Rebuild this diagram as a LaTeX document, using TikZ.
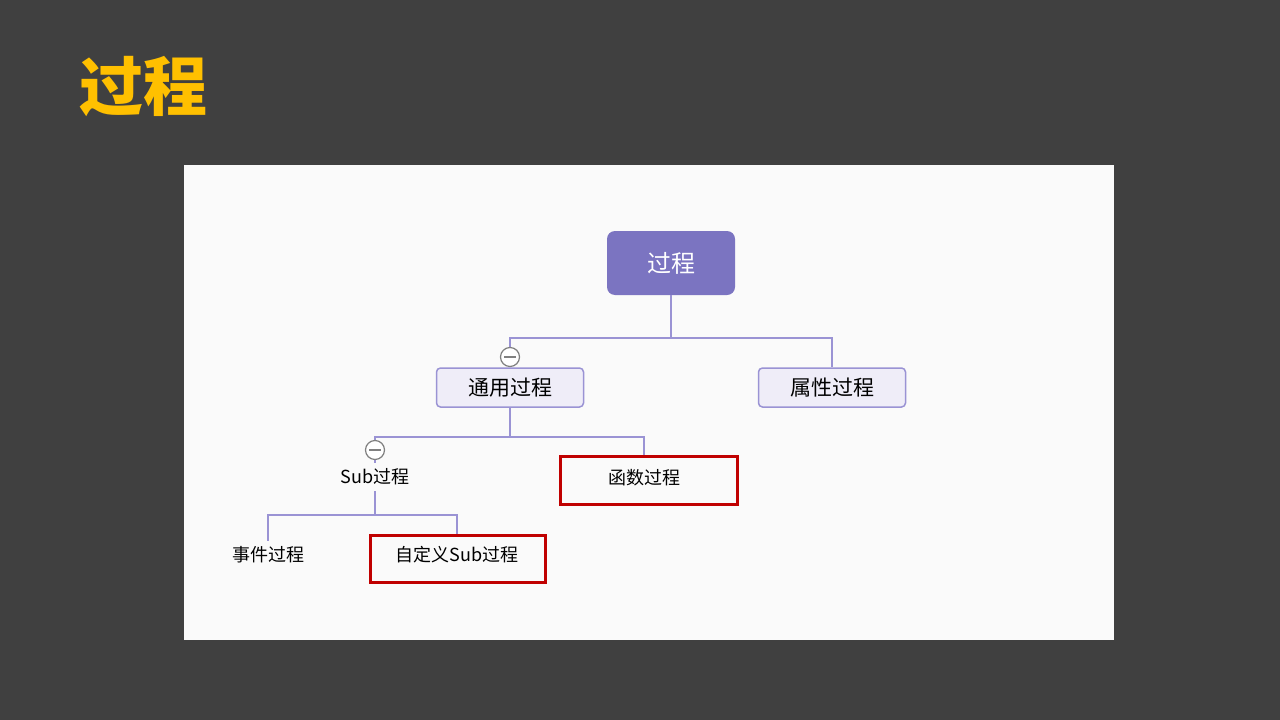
\documentclass[tikz,border=0pt]{standalone}
\usepackage{xcolor}
\usepackage{tikz}
\usepackage{fontspec}
\setmainfont{Noto Sans CJK SC}
\usetikzlibrary{arrows.meta, positioning, calc}
\definecolor{slidebg}{HTML}{404040}
\definecolor{titlegold}{HTML}{FFC000}
\definecolor{panelbg}{HTML}{FAFAFA}
\definecolor{mmroot}{HTML}{7B74C1}
\definecolor{mmline}{HTML}{9A93D4}
\definecolor{mmfill}{HTML}{EFEDF8}
\definecolor{markred}{HTML}{C00000}

\begin{document}
\begin{tikzpicture}[
    x=1pt, y=-1pt,
    topic/.style={draw=mmline, fill=mmfill, line width=1.5pt, rounded corners=4pt,
                  minimum width=147pt, minimum height=39pt, inner sep=0pt, font=\fontsize{21}{24}\selectfont},
    leaf/.style={inner sep=0pt, minimum height=28pt, font=\fontsize{18}{21}\selectfont},
    hilite/.style={draw=markred, line width=3pt, inner sep=0pt},
    link/.style={draw=mmline, line width=1.5pt},
    fold/.style={circle, draw=gray, fill=white, line width=1.2pt, minimum size=19pt, inner sep=0pt,
                 path picture={\draw[gray, line width=1.2pt]
                     ([xshift=-6pt]path picture bounding box.center) -- ([xshift=6pt]path picture bounding box.center);}},
]
    \useasboundingbox (0,0) rectangle (1280,720);
    \fill[slidebg] (0,0) rectangle (1280,720);

    % Title
    \node[text=titlegold, font=\fontsize{64}{70}\selectfont\bfseries, inner sep=0pt] (title) at (143,87) {过程};

    % Panel
    \fill[panelbg] (184,165) rectangle (1114,640);

    % Nodes
    \node[fill=mmroot, rounded corners=8pt, minimum width=128pt, minimum height=64pt, inner sep=0pt,
          text=white, font=\fontsize{24}{28}\selectfont] (root) at (671,263) {过程};
    \node[topic] (general) at (510,387.5) {通用过程};
    \node[topic] (attr) at (832,387.5) {属性过程};
    \node[leaf] (subp) at (375,477) {Sub过程};
    \node[leaf] (func) at (644,478) {函数过程};
    \node[leaf] (event) at (268,555) {事件过程};
    \node[leaf] (custom) at (457,555) {自定义Sub过程};

    % Red marks
    \node[hilite, minimum width=177pt, minimum height=48pt] (funcbox) at (648.5,480) {};
    \node[hilite, minimum width=175pt, minimum height=47pt] (custombox) at (457.5,558.5) {};

    % Connectors
    \coordinate (j1) at (671,338);
    \coordinate (j2) at (510,437);
    \coordinate (j3) at (375,515);
    \draw[link] (root.south) -- (j1) -| (general.north);
    \draw[link] (j1) -| (attr.north);
    \draw[link] (general.south) -- (j2) -| (subp.north);
    \draw[link] (j2) -| (funcbox.north -| func.north);
    \draw[link] (subp.south) -- (j3) -| (event.north);
    \draw[link] (j3) -| (custombox.north -| custom.north);

    % Fold icons
    \node[fold] (fold1) at (510,357) {};
    \node[fold] (fold2) at (375,450) {};
\end{tikzpicture}
\end{document}
